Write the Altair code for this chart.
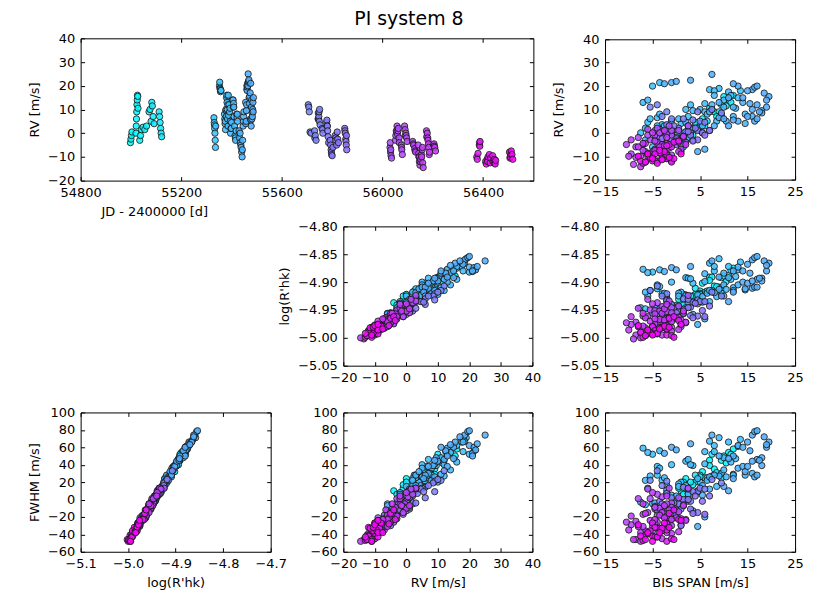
import altair as alt
import pandas as pd

# ---- season A (earliest) ----
jd_a = [54998,55000,55002,55004,55020,55021,55022,55023,55024,55025,55026,55027,55028,55035,55038,55042,55048,55055,55062,55072,55076,55080,55083,55085,55088,55092,55112,55114,55116,55118,55120,55122]
rv_a = [-4.0,-2.5,-1.0,0.5,0.0,3.0,6.0,9.0,12.0,14.0,16.0,15.5,10.5,-3.0,-1.0,1.5,2.5,1.5,3.0,9.0,10.0,5.0,13.0,11.5,7.0,4.0,9.0,7.0,4.5,2.0,0.0,-1.5]
bis_a = [1.0,2.5,0.5,3.0,2.0,4.0,5.5,8.0,9.5,11.0,12.0,10.0,7.0,1.5,3.5,2.5,5.0,4.5,6.0,9.0,7.5,6.5,11.5,10.5,8.5,5.0,7.0,9.5,4.0,3.0,1.5,0.0]
rhk_a = [-4.937,-4.943,-4.931,-4.936,-4.923,-4.922,-4.902,-4.907,-4.892,-4.888,-4.875,-4.889,-4.891,-4.941,-4.925,-4.932,-4.916,-4.930,-4.918,-4.909,-4.891,-4.916,-4.879,-4.899,-4.908,-4.920,-4.897,-4.917,-4.911,-4.925,-4.922,-4.942]
fwhm_a = [10,-2,13,6,24,20,32,35,45,54,58,50,45,6,17,7,28,9,25,29,52,25,52,42,31,26,39,25,28,20,20,-1]

# ---- season B ----
jd_b = [55330,55331,55333,55334,55336,55352,55353,55354,55356,55358,55372,55374,55376,55378,55380,55382,55384,55386,55390,55392,55395,55398,55405,55407,55410,55412,55414,55416,55420,55424,55430,55432,55435,55438,55440,55442,55444,55446,55448,55458,55460,55461,55462,55463,55464,55465,55466,55467,55468,55469,55470,55472,55475,55478,55480,55482,55484,55486]
rv_b = [6.5,4.5,2.0,0.0,-6.0,20.0,21.5,19.0,17.5,18.0,8.0,4.0,1.5,10.0,15.0,13.0,6.0,3.0,12.0,9.0,5.0,2.0,14.0,11.0,7.0,3.0,-1.0,-3.0,8.0,5.0,1.0,-2.0,-4.0,-6.0,-8.0,-10.0,-3.0,3.0,7.0,5.0,12.0,18.5,18.0,19.5,21.0,20.0,25.0,21.5,22.0,22.5,15.0,15.5,6.0,3.0,14.0,8.5,10.0,9.0]
bis_b = [-4.0,-6.0,-2.0,-7.5,-5.0,-5.0,-3.5,9.0,11.0,13.5,-3.5,1.0,-1.0,2.0,13.0,-7.0,0.5,-2.5,3.0,6.0,8.5,4.5,-6.0,10.0,12.0,5.5,0.0,-4.5,14.5,10.5,7.0,2.5,-3.0,1.5,4.5,-1.5,3.5,8.0,16.0,16.5,17.0,16.0,15.0,16.5,-2.5,17.0,7.5,-1.0,0.0,3.0,14.0,19.5,17.0,11.0,19.0,18.0,16.0,17.5]
rhk_b = [-4.905,-4.925,-4.928,-4.946,-4.956,-4.882,-4.878,-4.858,-4.872,-4.864,-4.908,-4.918,-4.941,-4.892,-4.878,-4.877,-4.920,-4.920,-4.894,-4.899,-4.926,-4.923,-4.883,-4.884,-4.915,-4.926,-4.945,-4.946,-4.914,-4.913,-4.935,-4.938,-4.961,-4.957,-4.976,-4.977,-4.958,-4.919,-4.911,-4.909,-4.895,-4.860,-4.868,-4.856,-4.881,-4.854,-4.862,-4.874,-4.878,-4.872,-4.880,-4.866,-4.909,-4.935,-4.870,-4.898,-4.898,-4.893]
fwhm_b = [38,13,16,-3,-5,52,56,71,66,69,36,20,5,44,61,59,18,25,40,41,15,24,54,48,28,16,4,-4,28,26,12,6,-18,-7,-31,-27,-13,28,30,26,46,74,66,78,53,79,74,60,57,64,60,66,28,10,63,39,44,45]

jd_b2 = [55332,55335,55355,55373,55377,55381,55388,55394,55400,55408,55418,55422,55434,55437,55443,55447,55457,55459,55471,55474,55477,55479,55483,55485]
rv_b2 = [3.5,-3.0,18.5,6.0,9.5,16.0,7.5,10.5,4.5,12.5,1.0,6.5,0.0,-5.0,-7.0,5.0,4.0,9.5,12.5,17.0,5.5,11.0,7.0,13.0]
bis_b2 = [-3.0,-6.5,7.0,-5.5,3.5,8.0,9.5,12.5,2.0,6.0,-2.0,9.0,5.5,-1.0,6.0,13.0,14.5,18.0,15.5,18.5,12.0,19.0,15.0,9.0]
rhk_b2 = [-4.921,-4.948,-4.866,-4.915,-4.902,-4.872,-4.910,-4.890,-4.924,-4.885,-4.931,-4.913,-4.936,-4.955,-4.966,-4.905,-4.912,-4.893,-4.884,-4.862,-4.918,-4.880,-4.902,-4.891]
fwhm_b2 = [22,-6,67,27,39,62,30,47,16,55,11,27,5,-11,-20,36,32,48,56,72,24,60,38,50]

jd_b3 = [55375,55379,55337,55383,55385,55406,55387,55357,55476,55399,55396,55415,55423,55409,55449,55456,55481,55487,55461]
rv_b3 = [5.0,7.0,3.0,10.0,12.0,14.0,16.0,18.0,21.0,2.0,0.0,-2.0,8.0,11.0,9.0,13.0,6.0,15.0,20.0]
bis_b3 = [-1.0,2.5,-4.0,5.0,7.5,10.0,11.5,8.0,12.0,-6.5,0.5,-2.0,6.5,12.0,7.0,14.0,10.0,11.0,13.0]
rhk_b3 = [-4.900,-4.893,-4.912,-4.922,-4.915,-4.905,-4.895,-4.880,-4.880,-4.918,-4.925,-4.935,-4.920,-4.910,-4.915,-4.900,-4.925,-4.892,-4.873]
fwhm_b3 = [40,46,28,20,27,34,43,55,50,22,15,8,22,29,26,38,15,47,62]

# ---- season C ----
jd_c = [55705,55707,55712,55716,55730,55733,55736,55745,55747,55749,55752,55760,55763,55778,55780,55782,55784,55792,55794,55796,55798,55800,55803,55812,55815,55818,55822,55825,55850,55852,55854,55856,55858]
rv_c = [12.0,11.0,0.5,0.0,1.0,-1.0,-3.0,8.5,7.0,5.0,3.5,2.0,0.0,4.5,3.0,1.0,-1.5,-3.0,-5.0,-7.0,-9.0,-9.5,-6.0,-1.0,-3.0,-5.0,-2.5,-4.0,2.0,0.0,-2.5,-5.0,-7.0]
bis_c = [-4.0,-5.5,2.0,-1.0,4.5,-2.5,1.0,9.5,-3.0,5.0,-2.0,0.5,3.0,6.0,2.5,-4.5,1.5,-1.0,0.0,-3.5,-2.0,-5.0,-1.5,3.0,4.5,-2.5,0.0,2.0,4.0,5.5,-3.0,1.0,-4.0]
rhk_c = [-4.907,-4.915,-4.946,-4.958,-4.939,-4.956,-4.952,-4.925,-4.925,-4.935,-4.933,-4.952,-4.945,-4.935,-4.931,-4.953,-4.949,-4.966,-4.966,-4.983,-4.975,-4.986,-4.963,-4.960,-4.961,-4.971,-4.955,-4.973,-4.938,-4.951,-4.951,-4.975,-4.969]
fwhm_c = [33,22,0,-13,10,-10,-11,19,16,13,7,-5,-2,12,12,-11,0,-22,-17,-35,-21,-36,-21,-11,-15,-19,-12,-23,4,-2,-5,-30,-18]

jd_c2 = [55709,55731,55746,55750,55762,55779,55786,55797,55814,55820,55851,55855,55744,55748,55781,55857]
rv_c2 = [9.0,-2.0,6.0,10.0,1.5,5.5,-4.0,-8.0,-2.0,0.5,1.0,-3.5,6.0,9.0,3.0,-1.0]
bis_c2 = [-2.0,0.0,1.5,7.5,-3.5,3.5,-0.5,1.0,-4.0,2.5,7.0,3.5,-1.0,4.5,-0.5,6.0]
rhk_c2 = [-4.921,-4.955,-4.930,-4.918,-4.948,-4.936,-4.962,-4.980,-4.958,-4.946,-4.943,-4.964,-4.940,-4.932,-4.947,-4.962]
fwhm_c2 = [21,-9,14,23,-2,9,-17,-29,-13,0,4,-16,2,9,-4,-17]

# ---- season D ----
jd_d = [56030,56032,56034,56036,56052,56055,56058,56060,56063,56066,56075,56077,56079,56088,56090,56093,56096,56098,56120,56124,56128,56132,56142,56145,56147,56149,56152,56155,56158,56160,56162,56175,56178,56181,56184,56187,56205,56208,56211]
rv_d = [-6.0,-8.0,-9.5,-10.5,-3.0,1.0,3.0,-0.5,2.0,-2.0,-5.0,-7.0,-9.0,3.0,1.5,0.0,-2.0,-3.5,-3.5,-5.0,-6.5,-8.0,-5.0,-10.0,-12.0,-13.5,-11.0,-9.0,-7.0,-12.5,-14.5,1.0,0.0,-3.0,-6.0,-8.0,-4.5,-6.0,-7.5]
bis_d = [-3.0,-6.5,-1.0,-8.5,-5.5,0.5,2.5,-2.0,-4.0,1.5,-7.0,-2.5,-9.5,-1.5,-6.0,-3.5,-8.0,0.0,-4.5,-10.5,-1.5,-5.0,-3.0,-7.5,-4.0,-9.0,-2.0,-6.0,1.0,-6.5,-7.5,-2.5,-5.0,-9.5,-3.5,0.5,-7.0,-1.0,-4.5]
rhk_d = [-4.963,-4.982,-4.981,-4.995,-4.950,-4.943,-4.924,-4.953,-4.937,-4.956,-4.961,-4.982,-4.976,-4.934,-4.931,-4.952,-4.947,-4.964,-4.957,-4.973,-4.964,-4.979,-4.956,-4.991,-4.993,-5.002,-4.985,-4.990,-4.968,-4.996,-5.000,-4.948,-4.939,-4.962,-4.967,-4.985,-4.956,-4.971,-4.966]
fwhm_d = [-13,-36,-30,-46,1,2,13,-5,6,-6,-17,-31,-29,13,12,-10,1,-21,-9,-26,-12,-30,-15,-38,-43,-46,-38,-38,-22,-41,-48,-7,8,-19,-18,-37,-5,-23,-23]

jd_d2 = [56033,56053,56057,56067,56076,56091,56122,56130,56144,56150,56156,56176,56183,56206,56031,56062,56094,56146,56159,56180,56186,56204]
rv_d2 = [-7.0,-1.0,0.5,-4.0,-6.0,-1.0,-4.5,-7.5,-8.5,-12.0,-10.0,-1.5,-4.5,-5.5,-4.0,1.0,-1.0,-10.0,-6.0,-2.0,-9.0,-5.0]
bis_d2 = [-4.5,-1.0,-3.0,0.5,-8.5,-4.5,-2.0,-7.0,-3.5,-1.0,-10.0,1.5,-6.5,-2.5,-4.0,-1.0,-6.0,-3.0,-8.0,-2.0,-5.5,2.0]
rhk_d2 = [-4.976,-4.946,-4.944,-4.963,-4.972,-4.951,-4.965,-4.979,-4.982,-4.988,-4.986,-4.952,-4.964,-4.968,-4.975,-4.955,-4.962,-4.995,-4.980,-4.940,-4.970,-4.972]
fwhm_d2 = [-27,-4,3,-14,-25,-8,-19,-31,-33,-39,-35,-7,-16,-21,-26,-9,-15,-45,-31,4,-24,-24]

# ---- season E (latest) ----
jd_e = [56375,56377,56385,56388,56410,56413,56416,56420,56428,56430,56440,56445,56448,56505,56508,56512,56515,56518]
rv_e = [-10.0,-11.0,-5.0,-3.5,-12.0,-13.0,-11.0,-10.0,-12.5,-10.5,-12.0,-11.0,-13.0,-8.0,-10.0,-7.5,-9.0,-11.0]
bis_e = [-5.0,-2.0,-1.5,0.5,-4.5,-7.0,-3.0,-6.0,-1.0,-5.5,-7.5,-0.5,-4.0,-2.5,-8.0,-3.5,1.0,-5.0]
rhk_e = [-4.980,-4.995,-4.965,-4.969,-4.987,-4.999,-4.981,-4.992,-4.996,-4.991,-4.990,-4.999,-4.992,-4.979,-4.978,-4.984,-4.976,-4.995]
fwhm_e = [-27,-48,-16,-23,-32,-47,-36,-39,-45,-36,-42,-46,-43,-27,-29,-38,-24,-48]

jd_e2 = [56380,56386,56418,56438,56446,56510,56387,56425,56450,56507]
rv_e2 = [-8.5,-4.0,-12.0,-9.5,-12.5,-9.0,-5.5,-9.0,-11.5,-10.5]
bis_e2 = [-3.5,-0.5,-5.0,-2.0,-6.5,-6.0,-2.0,-4.5,-3.0,-1.5]
rhk_e2 = [-4.981,-4.962,-4.993,-4.984,-4.996,-4.986,-4.978,-4.993,-4.982,-4.981]
fwhm_e2 = [-33,-12,-42,-35,-46,-38,-28,-43,-33,-32]

df = pd.DataFrame({
    "jd": jd_a + jd_b + jd_b2 + jd_b3 + jd_c + jd_c2 + jd_d + jd_d2 + jd_e + jd_e2,
    "rv": rv_a + rv_b + rv_b2 + rv_b3 + rv_c + rv_c2 + rv_d + rv_d2 + rv_e + rv_e2,
    "bis": bis_a + bis_b + bis_b2 + bis_b3 + bis_c + bis_c2 + bis_d + bis_d2 + bis_e + bis_e2,
    "rhk": rhk_a + rhk_b + rhk_b2 + rhk_b3 + rhk_c + rhk_c2 + rhk_d + rhk_d2 + rhk_e + rhk_e2,
    "fwhm": fwhm_a + fwhm_b + fwhm_b2 + fwhm_b3 + fwhm_c + fwhm_c2 + fwhm_d + fwhm_d2 + fwhm_e + fwhm_e2,
}).sort_values("jd", kind="stable").reset_index(drop=True)

FONT = "DejaVu Sans"
COLOR = alt.Color("jd:Q", legend=None,
                  scale=alt.Scale(domain=[min(df.jd), max(df.jd)],
                                  range=["#00ffff", "#ff00ff"], interpolate="rgb"))

AX = dict(tickSize=4, offset=-4, domain=False, grid=False, tickColor="black", tickWidth=1,
          labelColor="black", labelFont=FONT, labelFontSize=13, labelPadding=6,
          labelFlush=False, labelOverlap=False, titleFont=FONT, titleFontSize=13,
          titleFontWeight="normal", titleColor="black", titlePadding=6)
AX2 = dict(tickSize=4, offset=-4, domain=False, grid=False, tickColor="black", tickWidth=1,
           labels=False, title=None)

ticks_jd = [54800, 55200, 55600, 56000, 56400]
ticks_rv = [-20, -10, 0, 10, 20, 30, 40]
ticks_bis = [-15, -5, 5, 15, 25]
ticks_rhk = [-5.05, -5.00, -4.95, -4.90, -4.85, -4.80]
ticks_rhk_x = [-5.1, -5.0, -4.9, -4.8, -4.7]
ticks_fwhm = [-60, -40, -20, 0, 20, 40, 60, 80, 100]


def panel(xf, yf, xdom, ydom, xt, yt, w, h, xtitle=None, ytitle=None,
          xfmt="d", yfmt="d", xtitle_x=None):
    xs = alt.Scale(domain=xdom, nice=False, zero=False)
    ys = alt.Scale(domain=ydom, nice=False, zero=False)
    xa = dict(AX, values=xt, format=xfmt, orient="bottom", title=xtitle)
    if xtitle_x is not None:
        xa["titleX"] = xtitle_x
    ya = dict(AX, values=yt, format=yfmt, orient="left", title=ytitle)
    base = alt.Chart(df)
    pts = base.mark_circle(size=40, opacity=0.88, stroke="#1a1a1a", strokeWidth=1).encode(
        x=alt.X(f"{xf}:Q", scale=xs, axis=alt.Axis(**xa)),
        y=alt.Y(f"{yf}:Q", scale=ys, axis=alt.Axis(**ya)),
        color=COLOR,
    )
    frame = base.mark_point(opacity=0).encode(
        x=alt.X(f"{xf}:Q", scale=xs, axis=alt.Axis(orient="top", values=xt, **AX2)),
        y=alt.Y(f"{yf}:Q", scale=ys, axis=alt.Axis(orient="right", values=yt, **AX2)),
    )
    return alt.layer(pts, frame).resolve_axis(x="independent", y="independent").properties(
        width=w, height=h)


W, W2, H = 191, 190, 140

# empty cell of the middle row: an invisible copy of the FWHM axis keeps the rows aligned
ghost_axis = dict(AX, values=ticks_fwhm, format="d", orient="left", title="FWHM [m/s]",
                  labelColor="transparent", titleColor="transparent", tickColor="transparent")
blank = alt.Chart(df).mark_point(opacity=0).encode(
    x=alt.X("rhk:Q", axis=None, scale=alt.Scale(domain=[-5.1, -4.7], nice=False, zero=False)),
    y=alt.Y("fwhm:Q", axis=alt.Axis(**ghost_axis),
            scale=alt.Scale(domain=[-60, 100], nice=False, zero=False)),
).properties(width=W, height=H, view=alt.ViewBackground(stroke="transparent"))

p1 = panel("jd", "rv", [54800, 56600], [-20, 40], ticks_jd, ticks_rv, 455, 143,
           xtitle="JD - 2400000 [d]", ytitle="RV [m/s]", xtitle_x=74)
p2 = panel("bis", "rv", [-15, 25], [-20, 40], ticks_bis, ticks_rv, W, 141, ytitle="RV [m/s]")
p3 = panel("rv", "rhk", [-20, 40], [-5.05, -4.80], ticks_rv, ticks_rhk, W2, H,
           ytitle="log(R'hk)", yfmt=".2f")
p4 = panel("bis", "rhk", [-15, 25], [-5.05, -4.80], ticks_bis, ticks_rhk, W, H, yfmt=".2f")
p5 = panel("rhk", "fwhm", [-5.1, -4.7], [-60, 100], ticks_rhk_x, ticks_fwhm, W, H,
           xtitle="log(R'hk)", ytitle="FWHM [m/s]", xfmt=".1f")
p6 = panel("rv", "fwhm", [-20, 40], [-60, 100], ticks_rv, ticks_fwhm, W2, H, xtitle="RV [m/s]")
p7 = panel("bis", "fwhm", [-15, 25], [-60, 100], ticks_bis, ticks_fwhm, W, H,
           xtitle="BIS SPAN [m/s]")

row1 = alt.hconcat(p1, p2, spacing=72, bounds="flush", center=True)
row2 = alt.hconcat(blank, p3, p4, spacing=73, bounds="flush")
row3 = alt.hconcat(p5, p6, p7, spacing=73, bounds="flush")

chart = alt.vconcat(
    row1, alt.vconcat(row2, row3, spacing=20), spacing=0,
    title=alt.TitleParams(text="PI system 8", fontSize=19, fontWeight="normal", font=FONT,
                          anchor="middle", offset=3, dx=-7, color="black"),
    padding={"left": 20, "top": 0, "right": 5, "bottom": 5},
).configure(font=FONT, background="white").configure_view(stroke="black", strokeWidth=1)

chart.save("out.html", embed_options={"renderer": "svg", "actions": False})
